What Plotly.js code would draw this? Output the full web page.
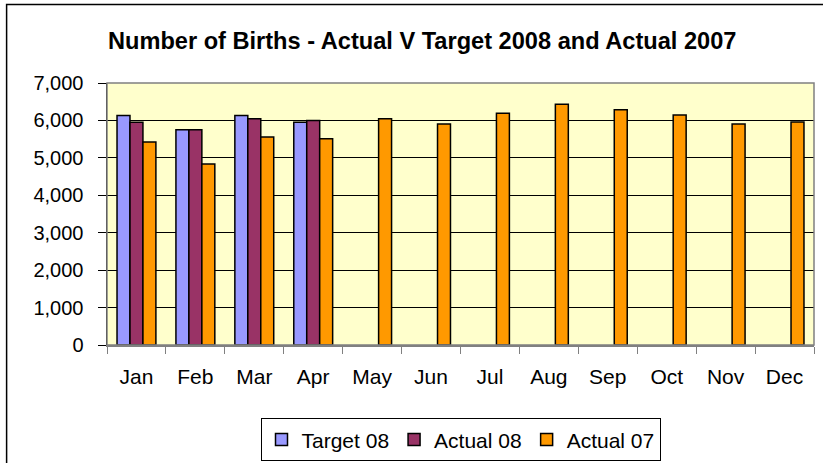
<!DOCTYPE html>
<html><head><meta charset="utf-8">
<script src="https://cdn.plot.ly/plotly-3.0.1.min.js"></script>
<style>html,body{margin:0;padding:0;background:#fff}#c{width:823px;height:463px}</style>
</head><body><div id="c"></div>
<script>
const months = ["Jan","Feb","Mar","Apr","May","Jun","Jul","Aug","Sep","Oct","Nov","Dec"];
const target08 = [6135, 5750, 6135, 5950, null, null, null, null, null, null, null, null];
const actual08 = [5950, 5750, 6045, 5995, null, null, null, null, null, null, null, null];
const actual07 = [5425, 4835, 5555, 5510, 6045, 5905, 6190, 6430, 6285, 6145, 5905, 5955];
const yTicks = [0,1000,2000,3000,4000,5000,6000,7000];
const yTickText = ["0","1,000","2,000","3,000","4,000","5,000","6,000","7,000"];

const line = {color:"#000", width:1.5};
const traces = [
  {type:"bar", name:"Target 08", x:months, y:target08, marker:{color:"#9999FF", line:line}},
  {type:"bar", name:"Actual 08", x:months, y:actual08, marker:{color:"#993366", line:line}},
  {type:"bar", name:"Actual 07", x:months, y:actual07, marker:{color:"#FF9900", line:line}}
];
const font = "Liberation Sans, Arial, sans-serif";
const layout = {
  width:823, height:463,
  margin:{l:107, r:9, t:83, b:118, autoexpand:false},
  paper_bgcolor:"#fff", plot_bgcolor:"#FFFFCC",
  barmode:"group", bargap:0.34, bargroupgap:0,
  showlegend:true,
  font:{family:font, size:20, color:"#000"},
  title:{text:"<b>Number of Births - Actual V Target 2008 and Actual 2007</b>",
         font:{family:font, size:23.6, color:"#000"}, x:0.513, xanchor:"center", y:0.913, yanchor:"middle"},
  xaxis:{type:"category", tickson:"boundaries", ticks:"outside", ticklen:7, tickcolor:"#808080",
         showline:true, linecolor:"#808080", linewidth:1.5, showgrid:false,
         ticklabelstandoff:12, tickfont:{family:font, size:21}},
  yaxis:{range:[0,7000], tickvals:yTicks, ticktext:yTickText, ticks:"outside", ticklen:8, tickcolor:"#000",
         showline:true, linecolor:"#000", linewidth:1.5, gridcolor:"#000", gridwidth:1,
         zeroline:false, ticklabelstandoff:10, tickfont:{family:font, size:20}, fixedrange:true},
  legend:{orientation:"h", x:0.5, xanchor:"center", y:-0.28, yanchor:"top",
          bordercolor:"#000", borderwidth:1, bgcolor:"#fff",
          font:{family:font, size:21}, tracegroupgap:0},
  shapes:[
    {type:"rect", xref:"paper", yref:"paper", x0:0, x1:1, y0:0, y1:1, line:{color:"#808080", width:1.5}, layer:"above"},
    {type:"rect", xref:"paper", yref:"paper", x0:-0.142, x1:1.02, y0:-0.5, y1:1.3, line:{color:"#000", width:1.5}}
  ]
};
Plotly.newPlot("c", traces, layout, {displayModeBar:false, staticPlot:true});
</script></body></html>
